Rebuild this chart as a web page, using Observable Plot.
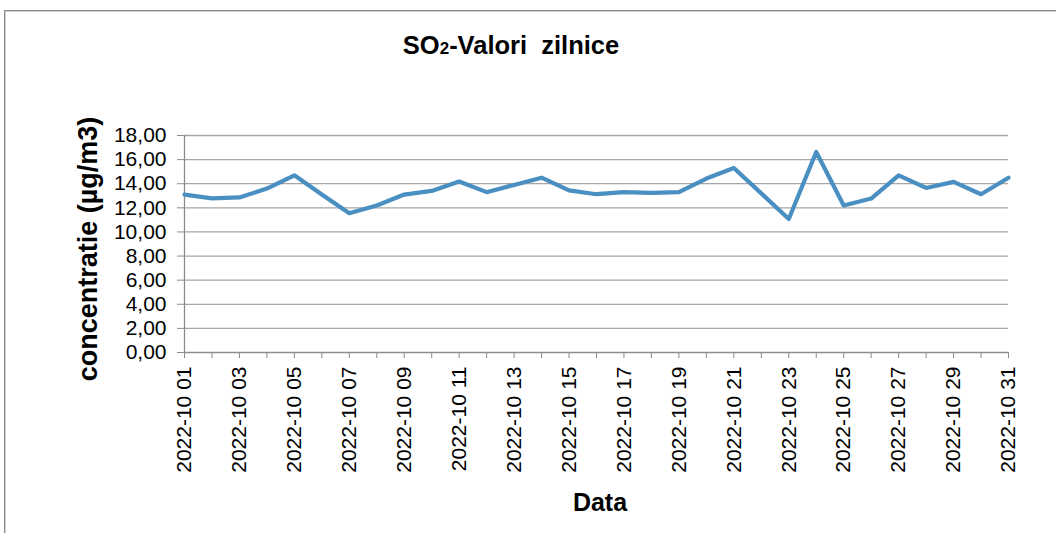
<!DOCTYPE html>
<html>
<head>
<meta charset="utf-8">
<script src="https://cdn.jsdelivr.net/npm/d3@7"></script>
<script src="https://cdn.jsdelivr.net/npm/@observablehq/plot@0.6"></script>
<style>
  html, body { margin: 0; padding: 0; background: #fff; }
  #wrap { position: relative; width: 1056px; height: 533px; overflow: hidden; }
  #frame { position: absolute; left: 4px; top: 10px; width: 1100px; height: 600px;
           border-top: 1px solid #8c8c8c; border-left: 1px solid #8c8c8c;
           box-shadow: inset 1px 1px 0 #d0d0d0; }
  #chart { position: absolute; left: 0; top: 0; }
</style>
</head>
<body>
<div id="wrap"><div id="frame"></div><div id="chart"></div></div>
<script>
const dates = [
  "2022-10 01","2022-10 02","2022-10 03","2022-10 04","2022-10 05","2022-10 06","2022-10 07",
  "2022-10 08","2022-10 09","2022-10 10","2022-10 11","2022-10 12","2022-10 13","2022-10 14",
  "2022-10 15","2022-10 16","2022-10 17","2022-10 18","2022-10 19","2022-10 20","2022-10 21",
  "2022-10 22","2022-10 23","2022-10 24","2022-10 25","2022-10 26","2022-10 27","2022-10 28",
  "2022-10 29","2022-10 30","2022-10 31"
];
const values = [
  13.10, 12.78, 12.86, 13.60, 14.70, 13.10, 11.55,
  12.20, 13.10, 13.40, 14.18, 13.30, 13.90, 14.50,
  13.45, 13.13, 13.30, 13.24, 13.30, 14.43, 15.30,
  13.20, 11.07, 16.63, 12.20, 12.77, 14.70, 13.65,
  14.15, 13.13, 14.50
];
const yTicks = [0, 2, 4, 6, 8, 10, 12, 14, 16, 18];
const xLabelTicks = dates.filter((d, i) => i % 2 === 0);
const title = { main: "SO", sub: "2", rest: "-Valori  zilnice" };
const yLabel = "concentratie (µg/m3)";
const xLabel = "Data";

const data = dates.map((d, i) => ({ date: d, value: values[i] }));
const font = "'Liberation Sans', Arial, sans-serif";
const fmt = v => v.toFixed(2).replace(".", ",");

const plot = Plot.plot({
  width: 1056,
  height: 533,
  marginLeft: 184,
  marginRight: 48,
  marginTop: 135,
  marginBottom: 181,
  style: { fontFamily: font, fontSize: "21px", color: "#000", background: "transparent" },
  x: { type: "point", domain: dates, padding: 0, round: false },
  y: { domain: [0, 18] },
  marks: [
    Plot.ruleY(yTicks.filter(t => t > 0), { stroke: "#a6a6a6", strokeWidth: 1.3, strokeOpacity: 1 }),
    Plot.axisY({ ticks: yTicks, tickFormat: fmt, tickSize: 7, tickPadding: 11, stroke: "#8c8c8c", label: null, fill: "#000" }),
    Plot.axisX({ ticks: dates, tickFormat: () => "", tickSize: 6, stroke: "#8c8c8c", label: null }),
    Plot.axisX({ ticks: xLabelTicks, tickSize: 0, tickPadding: 14, tickRotate: -90, label: null, fill: "#000" }),
    Plot.ruleX([dates[0]], { y1: 0, y2: 18, stroke: "#8c8c8c", strokeWidth: 1.3 }),
    Plot.ruleY([0], { stroke: "#8c8c8c", strokeWidth: 1.3 }),
    Plot.line(data, { x: "date", y: "value", stroke: "#4a8fc1", strokeWidth: 4.2, strokeLinejoin: "round" })
  ]
});

const svg = d3.select(plot);
const t = svg.append("text")
  .attr("x", 511).attr("y", 54)
  .attr("text-anchor", "middle")
  .attr("font-family", font).attr("font-weight", "bold").attr("font-size", 25.5)
  .attr("fill", "#000")
  .attr("xml:space", "preserve");
t.append("tspan").text(title.main);
t.append("tspan").attr("font-size", 17).text(title.sub);
t.append("tspan").text(title.rest);

svg.append("text")
  .attr("transform", "translate(97,249) rotate(-90)")
  .attr("text-anchor", "middle")
  .attr("font-family", font).attr("font-weight", "bold").attr("font-size", 27)
  .attr("fill", "#000")
  .text(yLabel);

svg.append("text")
  .attr("x", 600).attr("y", 511)
  .attr("text-anchor", "middle")
  .attr("font-family", font).attr("font-weight", "bold").attr("font-size", 25)
  .attr("fill", "#000")
  .text(xLabel);

document.getElementById("chart").appendChild(plot);
</script>
</body>
</html>
